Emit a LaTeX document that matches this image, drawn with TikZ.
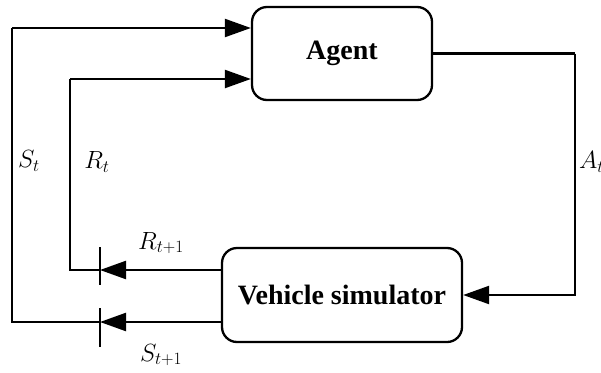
\documentclass[tikz,border=0pt]{standalone}
\usepackage{fontspec}
\setmainfont{Liberation Serif}
\usetikzlibrary{arrows.meta}
\tikzset{
  block/.style={draw, line width=2.3pt, rounded corners=15pt, align=center,
    font=\fontsize{28}{30}\selectfont\bfseries, inner sep=0pt},
  flow/.style={line width=2.3pt, -{Triangle[length=26pt,width=18pt]}},
  wire/.style={line width=2.3pt},
  tick/.style={line width=2.3pt},
  lab/.style={font=\fontsize{26}{30}\selectfont, inner sep=0pt}
}
\begin{document}
\begin{tikzpicture}[x=1pt,y=-1pt]
\useasboundingbox (0,0) rectangle (601,372);
\clip (0,0) rectangle (601,372);

% the two blocks
\node[block, minimum width=180pt, minimum height=93pt] (agent) at (342,53.5) {Agent};
\node[block, minimum width=240pt, minimum height=94pt] (sim) at (342,295) {Vehicle simulator};

% corner points of the feedback loops
\coordinate (acorner) at (575,53.5);
\coordinate (aturn) at (575,295);
\coordinate (rbar) at (100,270);
\coordinate (rlow) at (70,270);
\coordinate (rtop) at (70,79);
\coordinate (sbar) at (100,322);
\coordinate (slow) at (12,322);
\coordinate (stop) at (12,28);

% action path
\draw[wire] (agent.east) -- (acorner);
\draw[flow] (acorner) -- (aturn) -- (sim.east);

% reward path
\draw[flow] (sim.west |- rbar) -- (rbar);
\draw[wire] (rbar) -- (rlow) -- (rtop);
\draw[flow] (rtop) -- (agent.west |- rtop);

% state path
\draw[flow] (sim.west |- sbar) -- (sbar);
\draw[wire] (sbar) -- (slow) -- (stop);
\draw[flow] (stop) -- (agent.west |- stop);

% sampling ticks
\draw[tick] (100,247) -- (100,285);
\draw[tick] (100,308) -- (100,347);

% signal labels
\node[lab] (lst) at (29,161) {$S_t$};
\node[lab] (lrt) at (97,162) {$R_t$};
\node[lab, anchor=west] (lat) at (579,162) {$A_t$};
\node[lab] (lrt1) at (161,243) {$R_{t+1}$};
\node[lab] (lst1) at (161,355) {$S_{t+1}$};
\end{tikzpicture}
\end{document}
